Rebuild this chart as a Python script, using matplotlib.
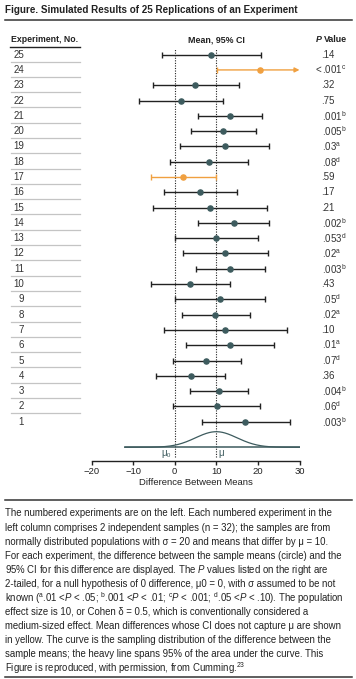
import numpy as np
import matplotlib
matplotlib.use("Agg")
import matplotlib.pyplot as plt
from matplotlib.lines import Line2D
from matplotlib.transforms import blended_transform_factory

FONT = ["Liberation Sans", "DejaVu Sans"]
plt.rcParams["font.family"] = FONT
plt.rcParams["mathtext.fontset"] = "custom"
plt.rcParams["mathtext.rm"] = "Liberation Sans"
plt.rcParams["mathtext.it"] = "Liberation Sans:italic"
plt.rcParams["mathtext.bf"] = "Liberation Sans:bold"

# ---- data (experiment 1 at the bottom, 25 at the top) ----
experiments = list(range(1, 26))
means = [17.0, 10.1, 10.6, 3.8, 7.6, 13.4, 12.2, 9.8, 10.8, 3.7,
         13.4, 12.1, 9.9, 14.2, 8.5, 6.1, 2.0, 8.2, 12.0, 11.7,
         13.3, 1.5, 4.9, 20.6, 8.8]
ci_low = [6.5, -0.4, 3.6, -4.5, -0.4, 2.8, -2.5, 1.8, 0.05, -5.7,
          5.0, 1.9, 0.0, 5.5, -5.1, -2.6, -5.7, -1.1, 1.3, 4.0,
          5.7, -8.5, -5.1, 10.2, -3.1]
ci_high = [27.6, 20.6, 17.5, 12.0, 15.9, 23.8, 26.9, 18.0, 21.6, 13.2,
           21.6, 22.4, 20.0, 22.6, 22.2, 14.9, 9.9, 17.6, 22.6, 19.6,
           20.9, 11.5, 15.4, 31.0, 20.7]
p_text = [".003", ".06", ".004", ".36", ".07", ".01", ".10", ".02", ".05", ".43",
          ".003", ".02", ".053", ".002", ".21", ".17", ".59", ".08", ".03", ".005",
          ".001", ".75", ".32", "<.001", ".14"]
p_flag = ["b", "d", "b", "", "d", "a", "", "a", "d", "",
          "b", "a", "d", "b", "", "", "", "d", "a", "b",
          "b", "", "", "c", ""]
mu0, mu = 0, 10
sigma, n = 20, 32
xticks = [-20, -10, 0, 10, 20, 30]

title = "Figure. Simulated Results of 25 Replications of an Experiment"
caption = [
    "The numbered experiments are on the left. Each numbered experiment in the",
    "left column comprises 2 independent samples (n = 32); the samples are from",
    "normally distributed populations with σ = 20 and means that differ by μ = 10.",
    "For each experiment, the difference between the sample means (circle) and the",
    "95% CI for this difference are displayed. The $P$ values listed on the right are",
    "2-tailed, for a null hypothesis of 0 difference, μ0 = 0, with σ assumed to be not",
    r"known ($^{\mathrm{a}}$.01 <$P$ < .05; $^{\mathrm{b}}$.001 <$P$ < .01; $^{\mathrm{c}}$$P$ < .001; $^{\mathrm{d}}$.05 <$P$ < .10). The population",
    "effect size is 10, or Cohen δ = 0.5, which is conventionally considered a",
    "medium-sized effect. Mean differences whose CI does not capture μ are shown",
    "in yellow. The curve is the sampling distribution of the difference between the",
    "sample means; the heavy line spans 95% of the area under the curve. This",
    r"Figure is reproduced, with permission, from Cumming.$^{23}$",
]

# ---- styles ----
DARK = "#222222"
DOT = "#3d5b5e"
YELLOW = "#f0a040"
W, H = 356, 679


def fx(px):
    return px / W


def fy(py):
    return 1 - py / H


fig = plt.figure(figsize=(W / 100, H / 100), dpi=100)
fig.patch.set_facecolor("white")

# forest axes: x -20..30 spans px 91.5..299.5, spine at px 461
ax = fig.add_axes([fx(91.5), fy(461), fx(299.5) - fx(91.5), fy(45) - fy(461)])
ax.set_xlim(-20, 30)
ax.set_ylim(-1.57, 25.63)
for s in ("top", "left", "right"):
    ax.spines[s].set_visible(False)
ax.spines["bottom"].set_color(DARK)
ax.spines["bottom"].set_linewidth(1.0)
ax.set_yticks([])
ax.set_xticks(xticks)
ax.tick_params(axis="x", direction="out", length=3, width=1, color=DARK,
               labelsize=6.8, pad=1.5, labelcolor=DARK)
ax.set_xlabel("Difference Between Means", fontsize=6.8, color=DARK, labelpad=1)

# reference lines
ax.vlines([mu0, mu], -1.31, 25.35, colors=DARK, linestyles=(0, (1, 1.3)), lw=0.8)

# CIs and means
xmax = ax.get_xlim()[1]
for e, m, lo, hi in zip(experiments, means, ci_low, ci_high):
    miss = lo > mu or hi < mu
    ec = YELLOW if miss else DARK
    mc = YELLOW if miss else DOT
    if hi > xmax:
        ax.annotate("", xy=(xmax, e), xytext=(lo, e),
                    arrowprops=dict(arrowstyle="-|>", color=ec, lw=1.0,
                                    mutation_scale=7, shrinkA=0, shrinkB=0))
        ax.plot([lo], [e], marker="|", ms=5, mew=1.0, color=ec)
        ax.plot([m], [e], "o", ms=3.7, color=mc)
    else:
        ax.errorbar([m], [e], xerr=[[m - lo], [hi - m]], fmt="o", ms=3.7,
                    color=mc, ecolor=ec, elinewidth=1.0, capsize=2.5, capthick=1.0)

# sampling distribution curve
base = -0.674
se = sigma * np.sqrt(2 / n)
xs = np.linspace(-12, 30, 400)
pdf = np.exp(-0.5 * ((xs - mu) / se) ** 2)
ax.plot([-12, 30], [base, base], color=DOT, lw=1.1)
ax.plot(xs, base + 1.02 * pdf / pdf.max(), color=DOT, lw=0.9)
ax.text(mu0 - 0.8, -1.05, "μ₀", ha="right", va="center", fontsize=7, color=DOT)
ax.text(mu + 0.4, -1.05, "μ", ha="left", va="center", fontsize=7, color=DOT)

# row labels, separators and P values (x in figure px, y in data rows)
blend = blended_transform_factory(fig.transFigure, ax.transData)
for e, pt, pf in zip(experiments, p_text, p_flag):
    ax.text(fx(24), e, str(e), transform=blend, ha="right", va="center",
            fontsize=7, color="#333333", clip_on=False)
    label = pt.lstrip("<") + (r"$^{\mathrm{%s}}$" % pf if pf else "")
    ax.text(fx(321.5), e, label, transform=blend, ha="left", va="center",
            fontsize=7, color="#333333", clip_on=False)
    if pt.startswith("<"):
        ax.text(fx(321.5), e, "<", transform=blend, ha="right", va="center",
                fontsize=7, color="#333333", clip_on=False)
    if e < experiments[-1]:
        ax.add_line(Line2D([fx(11), fx(80)], [e + 0.55, e + 0.55], transform=blend,
                           color="#c4c4c4", lw=0.9, clip_on=False))

# headers
fig.text(fx(11), fy(40), "Experiment, No.", fontsize=6.3, weight="bold",
         color=DARK, va="center")
fig.add_artist(Line2D([fx(10), fx(80)], [fy(46.5), fy(46.5)], color=DARK, lw=1.0))
fig.text(fx(216.5), fy(40), "Mean, 95% CI", fontsize=6.4, weight="bold",
         color=DARK, va="center", ha="center")
fig.text(fx(316), fy(40), "P", fontsize=6.4, weight="bold", style="italic",
         color=DARK, va="center")
fig.text(fx(324), fy(40), "Value", fontsize=6.4, weight="bold",
         color=DARK, va="center")

# title and rules
fig.text(fx(5), fy(10), title, fontsize=7.1, weight="bold", color=DARK, va="center")
for y in (20, 500, 677):
    fig.add_artist(Line2D([fx(5), fx(352)], [fy(y), fy(y)], color="#333333", lw=1.1))

# caption
for i, line in enumerate(caption):
    fig.text(fx(5), fy(513.5 + 14.05 * i), line, fontsize=6.95, color=DARK, va="center")

fig.savefig("out.png", dpi=100, facecolor="white")
